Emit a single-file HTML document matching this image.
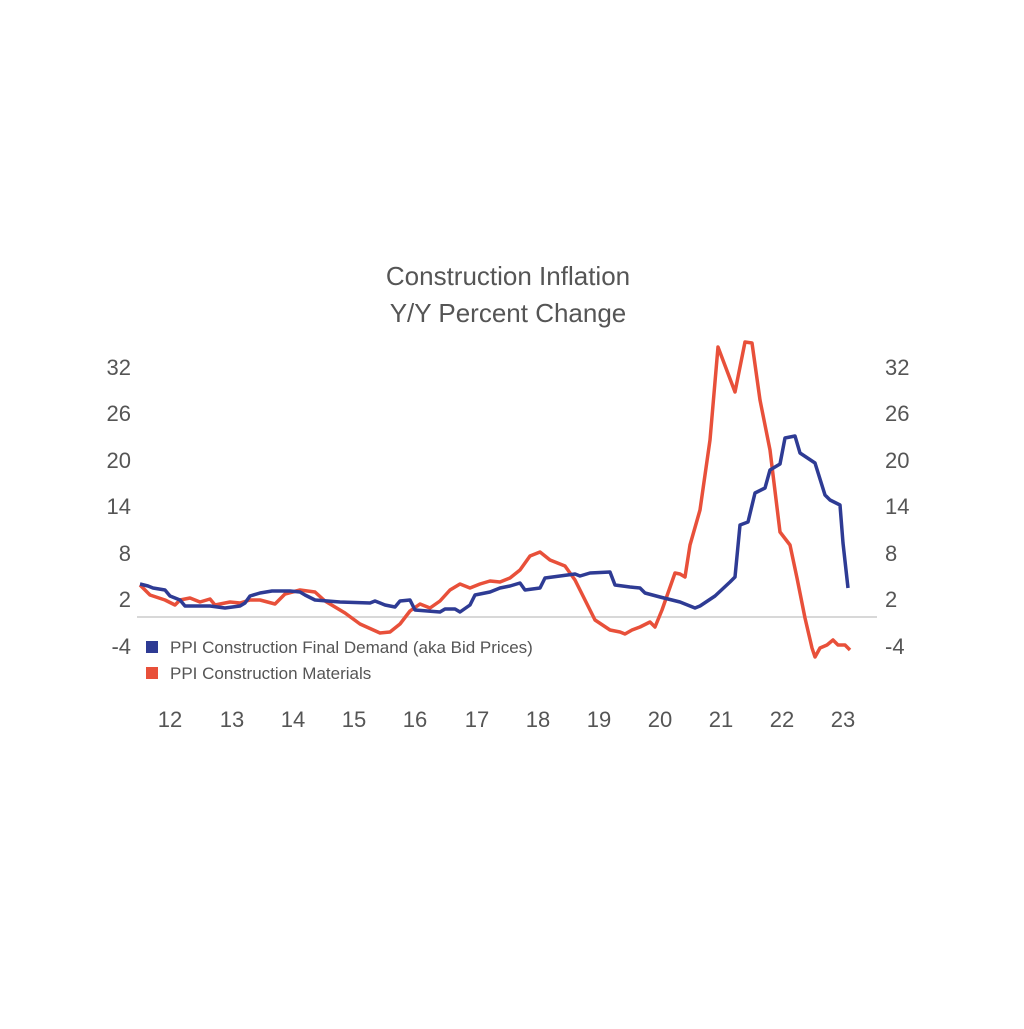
<!DOCTYPE html>
<html><head><meta charset="utf-8"><style>
body{margin:0;background:#fff}
svg text{font-family:"Liberation Sans",Arial,sans-serif;fill:#555}
</style></head><body>
<svg width="1024" height="1024" viewBox="0 0 1024 1024" xmlns="http://www.w3.org/2000/svg">
<rect width="1024" height="1024" fill="#fff"/>
<text x="508" y="285" font-size="26" text-anchor="middle">Construction Inflation</text>
<text x="508" y="322" font-size="26" text-anchor="middle">Y/Y Percent Change</text>
<g font-size="22" text-anchor="end">
<text x="131" y="375">32</text><text x="131" y="421">26</text><text x="131" y="468">20</text>
<text x="131" y="514">14</text><text x="131" y="561">8</text><text x="131" y="607">2</text><text x="131" y="654">-4</text>
</g>
<g font-size="22" text-anchor="start">
<text x="885" y="375">32</text><text x="885" y="421">26</text><text x="885" y="468">20</text>
<text x="885" y="514">14</text><text x="885" y="561">8</text><text x="885" y="607">2</text><text x="885" y="654">-4</text>
</g>
<g font-size="22" text-anchor="middle">
<text x="170" y="727">12</text><text x="232" y="727">13</text><text x="293" y="727">14</text>
<text x="354" y="727">15</text><text x="415" y="727">16</text><text x="477" y="727">17</text>
<text x="538" y="727">18</text><text x="599" y="727">19</text><text x="660" y="727">20</text>
<text x="721" y="727">21</text><text x="782" y="727">22</text><text x="843" y="727">23</text>
</g>
<line x1="137" y1="617" x2="877" y2="617" stroke="#ccc" stroke-width="1.5"/>
<polyline fill="none" stroke="#e8503a" stroke-width="3.5" stroke-linejoin="round" points="140,585 150,595 165,600 175,605 180,600 190,598 200,602 210,599 215,605 230,602 240,603 250,600 260,600 275,604 285,594 300,590 315,592 325,601 345,613 360,624 380,633 390,632 400,624 410,611 420,604 430,608 440,601 450,590 460,584 470,588 480,584 490,581 500,582 510,578 520,570 530,556 540,552 550,560 565,566 575,580 585,600 595,620 610,630 620,632 625,634 632,630 640,627 650,622 655,627 662,610 675,573 680,574 685,577 690,545 700,510 710,440 718,347 735,392 745,342 752,343 760,400 770,450 780,532 790,545 797,578 805,618 812,648 815,657 820,648 827,645 833,640 838,645 845,645 850,650"/>
<polyline fill="none" stroke="#2e3b94" stroke-width="3.5" stroke-linejoin="round" points="140,584 148,586 153,588 165,590 170,596 180,600 185,606 210,606 225,608 240,606 245,603 250,596 260,593 272,591 290,591 300,592 305,595 315,600 340,602 370,603 375,601 385,605 395,607 400,601 410,600 415,610 440,612 445,609 455,609 460,612 470,605 475,595 490,592 500,588 510,586 520,583 525,590 540,588 545,578 560,576 575,574 580,576 590,573 610,572 615,585 630,587 640,588 645,593 660,597 680,602 695,608 700,606 715,596 730,582 735,577 740,525 748,522 755,493 765,488 770,470 780,464 785,438 795,436 800,453 815,463 825,495 830,500 840,505 843,543 848,588"/>
<rect x="146" y="641" width="12" height="12" fill="#2e3b94"/>
<text x="170" y="653" font-size="17">PPI Construction Final Demand (aka Bid Prices)</text>
<rect x="146" y="667" width="12" height="12" fill="#e8503a"/>
<text x="170" y="679" font-size="17">PPI Construction Materials</text>
</svg>
</body></html>
